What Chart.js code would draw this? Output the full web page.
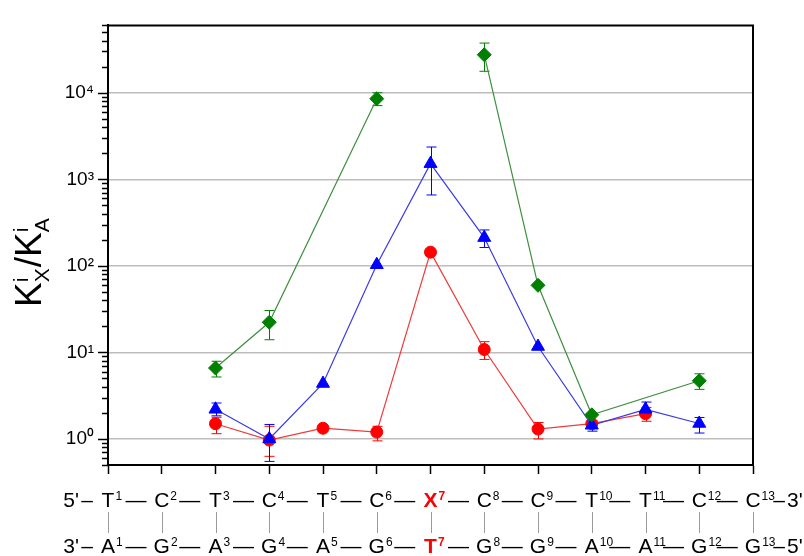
<!DOCTYPE html>
<html>
<head>
<meta charset="utf-8">
<script src="https://cdn.jsdelivr.net/npm/chart.js@4.4.1/dist/chart.umd.min.js"></script>
<style>
  html, body { margin: 0; padding: 0; background: #fff; }
  #chart { display: block; }
</style>
</head>
<body>
<canvas id="chart" width="804" height="556"></canvas>
<script>
const FONT = '"Liberation Sans", Arial, sans-serif';

// base pair positions along the duplex
const positions = [1, 2, 3, 4, 5, 6, 7, 8, 9, 10, 11, 12, 13];
const topStrand = ['T', 'C', 'T', 'C', 'T', 'C', 'X', 'C', 'C', 'T', 'T', 'C', 'C'];
const bottomStrand = ['A', 'G', 'A', 'G', 'A', 'G', 'T', 'G', 'G', 'A', 'A', 'G', 'G'];
const highlightPos = 7;

// red circles
const redX = [3, 4, 5, 6, 7, 8, 9, 10, 11];
const redY = [1.5, 0.97, 1.33, 1.2, 144, 10.8, 1.3, 1.5, 1.96];
const redLo = [1.15, 0.63, null, 0.95, null, 8.3, 1.0, null, 1.6];
const redHi = [1.78, 1.4, null, 1.4, null, 13.3, 1.55, null, 2.3];

// blue triangles
const blueX = [3, 4, 5, 6, 7, 8, 9, 10, 11, 12];
const blueY = [2.2, 1.0, 4.37, 103, 1517, 212, 11.7, 1.44, 2.2, 1.51];
const blueLo = [1.85, 0.55, null, null, 659, 163, null, 1.23, 1.9, 1.17];
const blueHi = [2.6, 1.47, null, null, 2360, 260, null, 1.62, 2.67, 1.77];

// green diamonds (null at 7 breaks the line)
const greenX = [3, 4, 6, 7, 8, 9, 10, 12];
const greenY = [6.6, 22.3, 8540, null, 27500, 59.6, 1.9, 4.7];
const greenLo = [5.2, 14.0, 7100, null, 17700, null, null, 3.74];
const greenHi = [7.9, 30.5, 10000, null, 37500, null, null, 5.66];

const SUP = '⁰¹²³⁴⁵⁶⁷⁸⁹';

const toPoints = (xs, ys) => xs.map((x, i) => ({ x: x, y: ys[i] }));

const isDecade = (v) => Math.abs(Math.log10(v) - Math.round(Math.log10(v))) < 1e-9;
const intMantissa = (v) => {
    const m = v / Math.pow(10, Math.floor(Math.log10(v) + 1e-9));
    return Math.abs(m - Math.round(m)) < 1e-6;
};

// error bars under the markers
const errorBars = {
    id: 'errorBars',
    beforeDatasetsDraw(chart) {
        const ctx = chart.ctx;
        const xs = chart.scales.x, ys = chart.scales.y;
        ctx.save();
        chart.data.datasets.forEach(ds => {
            ctx.strokeStyle = ds.pointBackgroundColor;
            ctx.lineWidth = 1;
            ds.data.forEach((pt, i) => {
                const lo = ds.errLo[i], hi = ds.errHi[i];
                if (lo == null || hi == null) return;
                const x = Math.round(xs.getPixelForValue(pt.x)) + 0.5;
                const y1 = ys.getPixelForValue(lo), y2 = ys.getPixelForValue(hi);
                ctx.beginPath();
                ctx.moveTo(x, y1); ctx.lineTo(x, y2);
                ctx.moveTo(x - 5, y1); ctx.lineTo(x + 5, y1);
                ctx.moveTo(x - 5, y2); ctx.lineTo(x + 5, y2);
                ctx.stroke();
            });
        });
        ctx.restore();
    }
};

// frame, y ticks, y title and the duplex under the x axis
const decorations = {
    id: 'decorations',
    afterDraw(chart) {
        const ctx = chart.ctx;
        const area = chart.chartArea;
        const xs = chart.scales.x, ys = chart.scales.y;
        ctx.save();

        // top and right frame
        ctx.strokeStyle = '#000';
        ctx.lineWidth = 2;
        ctx.beginPath();
        ctx.moveTo(area.left, area.top);
        ctx.lineTo(area.right, area.top);
        ctx.lineTo(area.right, area.bottom);
        ctx.stroke();

        // y tick marks, long at decades
        ctx.lineWidth = 1.5;
        ys.ticks.forEach(t => {
            const y = Math.round(ys.getPixelForValue(t.value)) + 0.5;
            const len = isDecade(t.value) ? 10 : 6;
            ctx.beginPath();
            ctx.moveTo(area.left - len, y);
            ctx.lineTo(area.left, y);
            ctx.stroke();
        });

        // y title  K^i_X / K^i_A
        ctx.translate(41, 307);
        ctx.rotate(-Math.PI / 2);
        ctx.fillStyle = '#000';
        ctx.textBaseline = 'alphabetic';
        ctx.textAlign = 'left';
        let cx = 0;
        const big = '37px ' + FONT, small = '21px ' + FONT;
        const part = (text, font, dy, advance) => {
            ctx.font = font;
            ctx.fillText(text, cx, dy);
            const w = ctx.measureText(text).width;
            if (advance) cx += w;
            return w;
        };
        part('K', big, 0, true);
        let w1 = part('i', small, -13, false);
        let w2 = part('X', small, 8, false);
        cx += Math.max(w1, w2) + 1;
        part('/', big, 0, true);
        part('K', big, 0, true);
        w1 = part('i', small, -13, false);
        w2 = part('A', small, 8, false);
        ctx.setTransform(1, 0, 0, 1, 0, 0);

        // connectors between strands
        ctx.strokeStyle = '#9a9a9a';
        ctx.lineWidth = 1;
        positions.forEach(p => {
            const x = Math.round(xs.getPixelForValue(p)) + 0.5;
            ctx.beginPath();
            ctx.moveTo(x, 512);
            ctx.lineTo(x, 533);
            ctx.stroke();
        });

        const rows = [
            { letters: topStrand, y: 507, left: "5'", right: "3'" },
            { letters: bottomStrand, y: 553, left: "3'", right: "5'" }
        ];
        rows.forEach(row => {
            // dashes between bases
            ctx.fillStyle = '#000';
            ctx.font = '21px ' + FONT;
            ctx.textAlign = 'center';
            for (let i = 0; i < positions.length - 1; i++) {
                const a = xs.getPixelForValue(positions[i]);
                const b = xs.getPixelForValue(positions[i + 1]);
                ctx.fillText('—', (a + b) / 2 + 1, row.y);
            }
            ctx.textAlign = 'right';
            ctx.fillText(row.left, 79, row.y);
            ctx.textAlign = 'center';
            ctx.fillText('–', 87, row.y);
            ctx.fillText('–', 779, row.y);
            ctx.textAlign = 'left';
            ctx.fillText(row.right, 787, row.y);

            row.letters.forEach((ch, i) => {
                const x = xs.getPixelForValue(positions[i]);
                const hot = positions[i] === highlightPos;
                const weight = hot ? 'bold ' : '';
                ctx.fillStyle = hot ? '#ff0000' : '#000';
                ctx.font = weight + '21px ' + FONT;
                ctx.textAlign = 'center';
                ctx.fillText(ch, x, row.y);
                const w = ctx.measureText(ch).width;
                ctx.font = weight + '12px ' + FONT;
                ctx.textAlign = 'left';
                ctx.fillText(String(positions[i]), x + w / 2 + 1, row.y - 7);
            });
        });
        ctx.restore();
    }
};

const makeSet = (label, xs, ys, lo, hi, line, fill, style, radius, order) => ({
    label: label,
    data: toPoints(xs, ys),
    errLo: lo,
    errHi: hi,
    borderColor: line,
    borderWidth: 1.2,
    pointBackgroundColor: fill,
    pointBorderColor: fill,
    pointBorderWidth: 1,
    pointStyle: style,
    pointRadius: radius,
    spanGaps: false,
    tension: 0,
    order: order
});

new Chart(document.getElementById('chart'), {
    type: 'line',
    data: {
        datasets: [
            makeSet('red', redX, redY, redLo, redHi, '#f03a3a', '#ff0000', 'circle', 6, 3),
            makeSet('blue', blueX, blueY, blueLo, blueHi, '#3a3ae6', '#0000ff', 'triangle', 7.5, 2),
            makeSet('green', greenX, greenY, greenLo, greenHi, '#3f8f3f', '#008000', 'rectRot', 7, 1)
        ]
    },
    options: {
        responsive: false,
        animation: false,
        devicePixelRatio: 1,
        layout: { padding: { top: 13, right: 51, left: 0, bottom: 0 } },
        plugins: {
            legend: { display: false },
            tooltip: { enabled: false }
        },
        scales: {
            x: {
                type: 'linear',
                min: 1,
                max: 13,
                afterFit: (scale) => { scale.height = 91; },
                ticks: { stepSize: 1, callback: () => '', autoSkip: false },
                grid: {
                    drawOnChartArea: false,
                    drawTicks: true,
                    tickLength: 9,
                    tickColor: '#000',
                    tickWidth: 1.5
                },
                border: { color: '#000', width: 2 }
            },
            y: {
                type: 'logarithmic',
                min: 0.5,
                max: 60000,
                afterFit: (scale) => { scale.width = 108; },
                afterBuildTicks: (scale) => {
                    scale.ticks = scale.ticks.filter(t => intMantissa(t.value));
                },
                ticks: {
                    autoSkip: false,
                    padding: 14,
                    color: '#000',
                    font: { family: FONT, size: 19 },
                    callback: (v) => isDecade(v)
                        ? '10' + SUP[Math.round(Math.log10(v))]
                        : ''
                },
                grid: {
                    drawTicks: false,
                    lineWidth: 1.5,
                    color: (c) => (c.tick && isDecade(c.tick.value)) ? '#bdbdbd' : 'rgba(0,0,0,0)'
                },
                border: { color: '#000', width: 2 }
            }
        }
    },
    plugins: [errorBars, decorations]
});
</script>
</body>
</html>
